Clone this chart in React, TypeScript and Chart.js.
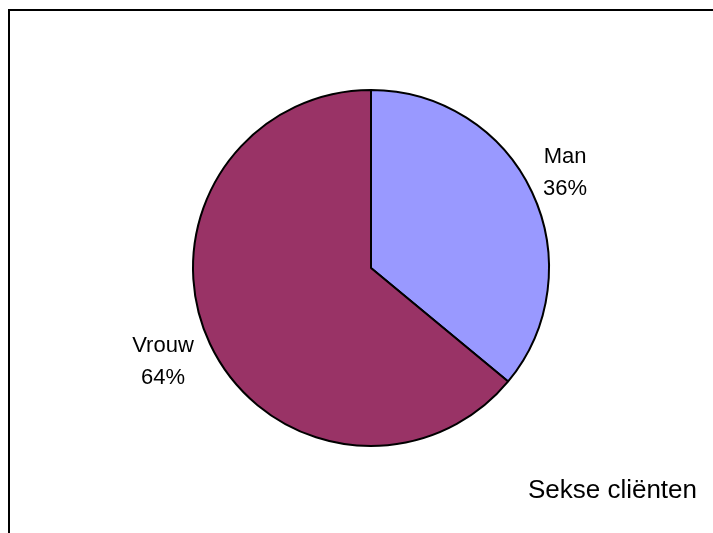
import React, { useEffect, useRef } from "react";
import { Chart, registerables } from "chart.js";

Chart.register(...registerables);

const categories: string[] = ["Man", "Vrouw"];
const percentages: number[] = [36, 64];
const sliceColors: string[] = ["#9999FF", "#993366"];
const chartTitle = "Sekse cliënten";

const FONT = '"Liberation Sans", Arial, sans-serif';

const overlayPlugin = {
  id: "overlay",
  afterDraw(chart: any) {
    const ctx = chart.ctx as CanvasRenderingContext2D;
    const meta = chart.getDatasetMeta(0);
    ctx.save();
    // frame (top and left edges)
    ctx.fillStyle = "#000";
    ctx.fillRect(8, 9, 705, 2);
    ctx.fillRect(8, 9, 2, 524);

    // data labels
    ctx.font = `22px ${FONT}`;
    ctx.fillStyle = "#000";
    ctx.textAlign = "center";
    ctx.textBaseline = "alphabetic";
    meta.data.forEach((arc: any, i: number) => {
      const p = arc.getProps(["x", "y", "startAngle", "endAngle", "outerRadius"], true);
      const mid = (p.startAngle + p.endAngle) / 2;
      const l1 = categories[i];
      const l2 = `${percentages[i]}%`;
      const w = Math.max(ctx.measureText(l1).width, ctx.measureText(l2).width);
      const d = p.outerRadius - 2 + 1.75 * (w / 2);
      const cx = p.x + Math.cos(mid) * d;
      const cy = p.y + Math.sin(mid) * d;
      ctx.fillText(l1, cx, cy - 13.5);
      ctx.fillText(l2, cx, cy + 18.5);
    });

    // title
    ctx.font = `26px ${FONT}`;
    ctx.textAlign = "right";
    ctx.fillText(chartTitle, 697, 498);
    ctx.restore();
  },
};

export default function App() {
  const ref = useRef<HTMLCanvasElement | null>(null);
  useEffect(() => {
    if (!ref.current) return;
    const chart = new Chart(ref.current, {
      type: "pie",
      data: {
        labels: categories,
        datasets: [
          {
            data: percentages,
            backgroundColor: sliceColors,
            borderColor: "#000000",
            borderWidth: 2,
            radius: 178,
          } as any,
        ],
      },
      options: {
        responsive: false,
        animation: false,
        layout: { padding: { left: 29, right: 0, top: 3, bottom: 0 } },
        plugins: {
          legend: { display: false },
          tooltip: { enabled: false },
          title: { display: false },
        },
      },
      plugins: [overlayPlugin],
    });
    return () => chart.destroy();
  }, []);
  return (
    <div style={{ position: "fixed", left: 0, top: 0, width: 713, height: 533, background: "#fff" }}>
      <canvas ref={ref} width={713} height={533} style={{ display: "block" }} />
    </div>
  );
}
